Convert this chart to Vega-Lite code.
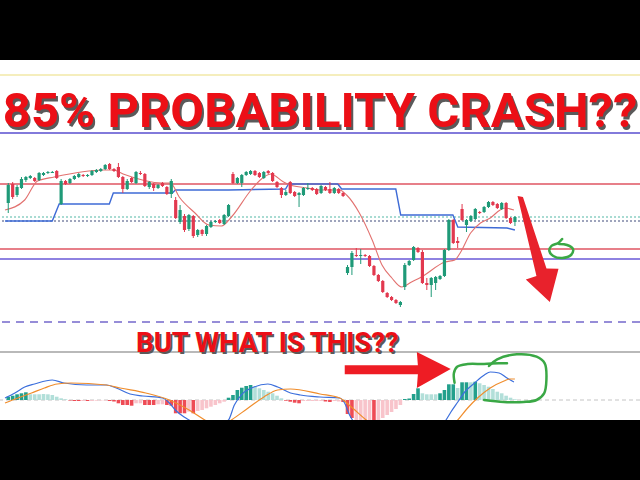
{
  "$schema": "https://vega.github.io/schema/vega-lite/v6.json",
  "width": 640,
  "height": 360,
  "autosize": {"type": "none"},
  "padding": {"top": 60, "bottom": 60, "left": 0, "right": 0},
  "background": "#000000",
  "config": {"view": {"stroke": null, "fill": "#ffffff"}, "axis": {"disable": true}, "legend": {"disable": true}},
  "datasets": {
    "candles": [
      {"t":0,"o":237,"h":257,"l":227,"c":255},{"t":1,"o":256,"h":258,"l":241,"c":243},{"t":2,"o":245,"h":255,"l":243,"c":253},{"t":3,"o":252,"h":263,"l":251,"c":261},
      {"t":4,"o":260,"h":264,"l":258,"c":263},{"t":5,"o":262,"h":265,"l":261,"c":264},{"t":6,"o":262,"h":263,"l":258,"c":259},{"t":7,"o":260,"h":268,"l":259,"c":267},
      {"t":8,"o":265,"h":268,"l":264,"c":267},{"t":9,"o":267,"h":269,"l":266,"c":268},{"t":10,"o":267,"h":269,"l":267,"c":268},{"t":11,"o":269,"h":270,"l":261,"c":262},
      {"t":12,"o":236,"h":261,"l":235,"c":259},{"t":13,"o":259,"h":260,"l":255,"c":256},{"t":14,"o":257,"h":262,"l":256,"c":261},{"t":15,"o":261,"h":265,"l":260,"c":264},
      {"t":16,"o":263,"h":267,"l":262,"c":266},{"t":17,"o":265,"h":266,"l":263,"c":264},{"t":18,"o":264,"h":266,"l":263,"c":265},{"t":19,"o":265,"h":270,"l":264,"c":269},
      {"t":20,"o":268,"h":271,"l":267,"c":270},{"t":21,"o":269,"h":272,"l":268,"c":271},{"t":22,"o":271,"h":276,"l":270,"c":275},{"t":23,"o":276,"h":277,"l":270,"c":271},
      {"t":24,"o":271,"h":272,"l":268,"c":269},{"t":25,"o":273,"h":277,"l":262,"c":263},{"t":26,"o":263,"h":264,"l":247,"c":251},{"t":27,"o":251,"h":261,"l":250,"c":259},
      {"t":28,"o":262,"h":263,"l":257,"c":258},{"t":29,"o":257,"h":269,"l":256,"c":268},{"t":30,"o":267,"h":269,"l":265,"c":266},{"t":31,"o":266,"h":267,"l":253,"c":254},
      {"t":32,"o":253,"h":259,"l":251,"c":258},{"t":33,"o":256,"h":257,"l":249,"c":252},{"t":34,"o":252,"h":256,"l":251,"c":255},{"t":35,"o":257,"h":258,"l":253,"c":254},
      {"t":36,"o":253,"h":254,"l":245,"c":246},{"t":37,"o":246,"h":261,"l":242,"c":259},{"t":38,"o":240,"h":243,"l":221,"c":222},{"t":39,"o":218,"h":235,"l":216,"c":230},
      {"t":40,"o":224,"h":226,"l":208,"c":210},{"t":41,"o":211,"h":226,"l":209,"c":225},{"t":42,"o":224,"h":225,"l":202,"c":204},{"t":43,"o":205,"h":211,"l":203,"c":210},
      {"t":44,"o":210,"h":211,"l":204,"c":206},{"t":45,"o":206,"h":215,"l":204,"c":214},{"t":46,"o":213,"h":219,"l":212,"c":218},{"t":47,"o":218,"h":220,"l":217,"c":219},
      {"t":48,"o":220,"h":221,"l":216,"c":217},{"t":49,"o":216,"h":226,"l":215,"c":225},{"t":50,"o":224,"h":236,"l":223,"c":235},{"t":51,"o":266,"h":268,"l":256,"c":257},
      {"t":52,"o":257,"h":263,"l":256,"c":262},{"t":53,"o":257,"h":266,"l":253,"c":265},{"t":54,"o":265,"h":269,"l":264,"c":268},{"t":55,"o":266,"h":270,"l":265,"c":269},
      {"t":56,"o":269,"h":270,"l":264,"c":265},{"t":57,"o":267,"h":268,"l":262,"c":263},{"t":58,"o":262,"h":269,"l":261,"c":268},{"t":59,"o":269,"h":270,"l":266,"c":267},
      {"t":60,"o":267,"h":268,"l":258,"c":259},{"t":61,"o":258,"h":259,"l":252,"c":253},{"t":62,"o":252,"h":253,"l":242,"c":245},{"t":63,"o":245,"h":250,"l":244,"c":248},
      {"t":64,"o":258,"h":259,"l":246,"c":247},{"t":65,"o":248,"h":249,"l":243,"c":244},{"t":66,"o":245,"h":248,"l":233,"c":247},{"t":67,"o":245,"h":253,"l":244,"c":252},
      {"t":68,"o":251,"h":257,"l":250,"c":252},{"t":69,"o":252,"h":253,"l":249,"c":250},{"t":70,"o":251,"h":252,"l":245,"c":246},{"t":71,"o":247,"h":255,"l":246,"c":254},
      {"t":72,"o":253,"h":254,"l":249,"c":250},{"t":73,"o":251,"h":258,"l":246,"c":247},{"t":74,"o":247,"h":253,"l":246,"c":252},{"t":75,"o":251,"h":252,"l":246,"c":247},
      {"t":76,"o":247,"h":248,"l":243,"c":244},{"t":77,"o":167,"h":175,"l":165,"c":173},{"t":78,"o":173,"h":189,"l":165,"c":187},{"t":79,"o":185,"h":192,"l":183,"c":184},
      {"t":80,"o":184,"h":191,"l":176,"c":185},{"t":81,"o":185,"h":186,"l":183,"c":184},{"t":82,"o":184,"h":185,"l":173,"c":174},{"t":83,"o":174,"h":175,"l":164,"c":165},
      {"t":84,"o":165,"h":166,"l":158,"c":159},{"t":85,"o":159,"h":160,"l":147,"c":148},{"t":86,"o":147,"h":148,"l":142,"c":143},{"t":87,"o":143,"h":144,"l":139,"c":140},
      {"t":88,"o":140,"h":141,"l":136,"c":137},{"t":89,"o":135,"h":139,"l":133,"c":138},{"t":90,"o":153,"h":177,"l":150,"c":175},{"t":91,"o":175,"h":180,"l":174,"c":179},
      {"t":92,"o":180,"h":194,"l":179,"c":193},{"t":93,"o":192,"h":193,"l":187,"c":188},{"t":94,"o":188,"h":190,"l":156,"c":157},{"t":95,"o":157,"h":162,"l":150,"c":155},
      {"t":96,"o":155,"h":163,"l":143,"c":162},{"t":97,"o":157,"h":164,"l":150,"c":163},{"t":98,"o":161,"h":165,"l":160,"c":164},{"t":99,"o":164,"h":191,"l":163,"c":190},
      {"t":100,"o":190,"h":221,"l":189,"c":220},{"t":101,"o":220,"h":221,"l":196,"c":197},{"t":102,"o":199,"h":203,"l":192,"c":197},{"t":103,"o":231,"h":236,"l":219,"c":220},
      {"t":104,"o":215,"h":221,"l":208,"c":220},{"t":105,"o":219,"h":225,"l":218,"c":224},{"t":106,"o":221,"h":232,"l":220,"c":231},{"t":107,"o":228,"h":229,"l":226,"c":227},
      {"t":108,"o":228,"h":234,"l":227,"c":233},{"t":109,"o":233,"h":239,"l":232,"c":238},{"t":110,"o":238,"h":239,"l":234,"c":235},{"t":111,"o":236,"h":237,"l":231,"c":232},
      {"t":112,"o":231,"h":238,"l":230,"c":237},{"t":113,"o":237,"h":238,"l":221,"c":222},{"t":114,"o":222,"h":223,"l":216,"c":217},{"t":115,"o":218,"h":224,"l":214,"c":223}
    ],
    "ema": [
      {"t":-0.74,"p":230},{"t":3.73,"p":240},{"t":6.64,"p":259},{"t":10.43,"p":263},{"t":21.6,"p":270},{"t":23.84,"p":270},{"t":26.07,"p":266},{"t":35.01,"p":257},
      {"t":36.8,"p":257},{"t":38.8,"p":243},{"t":42.38,"p":227},{"t":45.51,"p":215},{"t":48.41,"p":214},{"t":50.65,"p":223},{"t":55.12,"p":250},{"t":58.02,"p":263},
      {"t":59.59,"p":266},{"t":62.49,"p":258},{"t":64.06,"p":255},{"t":67.85,"p":252},{"t":70.76,"p":250},{"t":75.22,"p":250},{"t":76.79,"p":245},{"t":79.69,"p":227},
      {"t":82.6,"p":200},{"t":84.83,"p":175},{"t":87.07,"p":162},{"t":89.3,"p":153},{"t":91.53,"p":158},{"t":93.77,"p":163},{"t":99.13,"p":178},{"t":101.36,"p":180},
      {"t":102.7,"p":188},{"t":104.94,"p":207},{"t":107.17,"p":217},{"t":109.4,"p":222},{"t":111.64,"p":230},{"t":112.76,"p":232},{"t":114.77,"p":230}
    ],
    "supertrend": [
      {"t":-0.74,"p":219},{"t":9.99,"p":219},{"t":11.55,"p":236},{"t":22.94,"p":236},{"t":23.84,"p":247},{"t":37.24,"p":247},{"t":37.91,"p":250},{"t":49.98,"p":250},
      {"t":62.94,"p":251},{"t":63.61,"p":256},{"t":74.78,"p":256},{"t":75.67,"p":251},{"t":87.96,"p":251},{"t":89.07,"p":225},{"t":100.92,"p":225},{"t":102.03,"p":213},
      {"t":113.2,"p":212},{"t":114.99,"p":210}
    ],
    "levels": [
      {"name":"top","p":365},{"name":"upper","p":307},{"name":"resistance","p":256},{"name":"dotA","p":223},{"name":"dotB","p":219},
      {"name":"support","p":191},{"name":"lower","p":181},{"name":"dashed","p":118},{"name":"divider","p":88}
    ],
    "macdZero": [{"m":0}],
    "hist": [
      {"t":0,"v":3.3,"phase":"rising above zero"},{"t":1,"v":4.3,"phase":"rising above zero"},{"t":2,"v":5.7,"phase":"rising above zero"},{"t":3,"v":6.7,"phase":"rising above zero"},
      {"t":4,"v":7.7,"phase":"rising above zero"},{"t":5,"v":5.7,"phase":"falling above zero"},{"t":6,"v":5.7,"phase":"falling above zero"},{"t":7,"v":5.7,"phase":"falling above zero"},
      {"t":8,"v":6,"phase":"falling above zero"},{"t":9,"v":5.7,"phase":"falling above zero"},{"t":10,"v":5,"phase":"falling above zero"},{"t":11,"v":3.3,"phase":"falling above zero"},
      {"t":12,"v":1.7,"phase":"falling above zero"},{"t":13,"v":0.7,"phase":"falling above zero"},{"t":14,"v":-0.5,"phase":"falling below zero"},{"t":15,"v":-1,"phase":"falling below zero"},
      {"t":16,"v":-1,"phase":"falling below zero"},{"t":17,"v":-1,"phase":"rising below zero"},{"t":18,"v":-1,"phase":"falling below zero"},{"t":19,"v":-1,"phase":"rising below zero"},
      {"t":20,"v":-0.7,"phase":"rising below zero"},{"t":21,"v":-0.5,"phase":"rising below zero"},{"t":22,"v":-0.5,"phase":"rising below zero"},{"t":23,"v":-1,"phase":"falling below zero"},
      {"t":24,"v":-1.5,"phase":"falling below zero"},{"t":25,"v":-3.3,"phase":"falling below zero"},{"t":26,"v":-5,"phase":"falling below zero"},{"t":27,"v":-5,"phase":"falling below zero"},
      {"t":28,"v":-5.7,"phase":"falling below zero"},{"t":29,"v":-3.3,"phase":"rising below zero"},{"t":30,"v":-3.3,"phase":"rising below zero"},{"t":31,"v":-5,"phase":"falling below zero"},
      {"t":32,"v":-5,"phase":"falling below zero"},{"t":33,"v":-5,"phase":"falling below zero"},{"t":34,"v":-4.3,"phase":"rising below zero"},{"t":35,"v":-4.3,"phase":"rising below zero"},
      {"t":36,"v":-5,"phase":"falling below zero"},{"t":37,"v":-5.7,"phase":"falling below zero"},{"t":38,"v":-13.3,"phase":"falling below zero"},{"t":39,"v":-13.3,"phase":"falling below zero"},
      {"t":40,"v":-13.3,"phase":"falling below zero"},{"t":41,"v":-11.7,"phase":"rising below zero"},{"t":42,"v":-13.3,"phase":"falling below zero"},{"t":43,"v":-11,"phase":"rising below zero"},
      {"t":44,"v":-10,"phase":"rising below zero"},{"t":45,"v":-8.3,"phase":"rising below zero"},{"t":46,"v":-6.7,"phase":"rising below zero"},{"t":47,"v":-5,"phase":"rising below zero"},
      {"t":48,"v":-3.3,"phase":"rising below zero"},{"t":49,"v":-1.7,"phase":"rising below zero"},{"t":50,"v":2.3,"phase":"rising above zero"},{"t":51,"v":5,"phase":"rising above zero"},
      {"t":52,"v":10,"phase":"rising above zero"},{"t":53,"v":12.3,"phase":"rising above zero"},{"t":54,"v":14,"phase":"rising above zero"},{"t":55,"v":15,"phase":"rising above zero"},
      {"t":56,"v":13.3,"phase":"falling above zero"},{"t":57,"v":11.7,"phase":"falling above zero"},{"t":58,"v":10,"phase":"falling above zero"},{"t":59,"v":8.3,"phase":"falling above zero"},
      {"t":60,"v":6.7,"phase":"falling above zero"},{"t":61,"v":4.3,"phase":"falling above zero"},{"t":62,"v":1.7,"phase":"falling above zero"},{"t":63,"v":-0.7,"phase":"falling below zero"},
      {"t":64,"v":-1.7,"phase":"falling below zero"},{"t":65,"v":-2.7,"phase":"falling below zero"},{"t":66,"v":-3.3,"phase":"falling below zero"},{"t":67,"v":-1,"phase":"rising below zero"},
      {"t":68,"v":-1,"phase":"rising below zero"},{"t":69,"v":-1,"phase":"rising below zero"},{"t":70,"v":-1,"phase":"rising below zero"},{"t":71,"v":-1,"phase":"rising below zero"},
      {"t":72,"v":-1.5,"phase":"falling below zero"},{"t":73,"v":-2,"phase":"falling below zero"},{"t":74,"v":-1,"phase":"rising below zero"},{"t":75,"v":-1.5,"phase":"rising below zero"},
      {"t":76,"v":-2,"phase":"falling below zero"},{"t":77,"v":-14,"phase":"falling below zero"},{"t":78,"v":-18,"phase":"falling below zero"},{"t":79,"v":-20,"phase":"rising below zero"},
      {"t":80,"v":-21,"phase":"rising below zero"},{"t":81,"v":-22,"phase":"rising below zero"},{"t":82,"v":-22,"phase":"rising below zero"},{"t":83,"v":-24,"phase":"falling below zero"},
      {"t":84,"v":-20,"phase":"rising below zero"},{"t":85,"v":-18,"phase":"rising below zero"},{"t":86,"v":-15,"phase":"rising below zero"},{"t":87,"v":-12,"phase":"rising below zero"},
      {"t":88,"v":-9,"phase":"rising below zero"},{"t":89,"v":-5,"phase":"rising below zero"},{"t":90,"v":1,"phase":"rising above zero"},{"t":91,"v":1.5,"phase":"rising above zero"},
      {"t":92,"v":6,"phase":"rising above zero"},{"t":93,"v":11.7,"phase":"rising above zero"},{"t":94,"v":6.7,"phase":"falling above zero"},{"t":95,"v":5.7,"phase":"falling above zero"},
      {"t":96,"v":5.7,"phase":"falling above zero"},{"t":97,"v":5.7,"phase":"falling above zero"},{"t":98,"v":6.7,"phase":"rising above zero"},{"t":99,"v":10,"phase":"rising above zero"},
      {"t":100,"v":15.7,"phase":"rising above zero"},{"t":101,"v":15.7,"phase":"rising above zero"},{"t":102,"v":12,"phase":"falling above zero"},{"t":103,"v":17.7,"phase":"rising above zero"},
      {"t":104,"v":17.7,"phase":"rising above zero"},{"t":105,"v":17.7,"phase":"falling above zero"},{"t":106,"v":18.3,"phase":"rising above zero"},{"t":107,"v":16.7,"phase":"falling above zero"},
      {"t":108,"v":15,"phase":"falling above zero"},{"t":109,"v":13.3,"phase":"falling above zero"},{"t":110,"v":11,"phase":"falling above zero"},{"t":111,"v":8.3,"phase":"falling above zero"},
      {"t":112,"v":6.7,"phase":"falling above zero"},{"t":113,"v":4.3,"phase":"falling above zero"},{"t":114,"v":2.3,"phase":"falling above zero"},{"t":115,"v":0.7,"phase":"falling above zero"}
    ],
    "macdLine": [
      {"t":-0.74,"m":2},{"t":1.5,"m":7},{"t":3.73,"m":13},{"t":5.96,"m":16},{"t":9.99,"m":20},{"t":12.67,"m":17},{"t":17.81,"m":15},{"t":22.27,"m":15},
      {"t":24.51,"m":12},{"t":27.64,"m":6},{"t":30.54,"m":4},{"t":35.01,"m":2},{"t":36.57,"m":-3},{"t":37.91,"m":-10},{"t":39.92,"m":-17},{"t":41.04,"m":-20},
      {"t":45.51,"m":-30},{"t":49.98,"m":-20},{"t":51.32,"m":-5},{"t":52.88,"m":5},{"t":55.79,"m":13},{"t":58.92,"m":16},{"t":61.15,"m":13},{"t":64.06,"m":7},
      {"t":66.29,"m":5},{"t":70.76,"m":3},{"t":75.22,"m":2},{"t":76.34,"m":-3},{"t":77.46,"m":-15},{"t":78.13,"m":-20},{"t":84.16,"m":-40},{"t":93.1,"m":-40},
      {"t":99.35,"m":-20},{"t":100.47,"m":-12},{"t":102.03,"m":-2},{"t":103.6,"m":8},{"t":105.83,"m":17},{"t":108.06,"m":25},{"t":109.4,"m":28},{"t":111.41,"m":27},
      {"t":113.2,"m":22},{"t":114.77,"m":18}
    ],
    "signalLine": [
      {"t":-0.74,"m":-3},{"t":2.17,"m":2},{"t":5.29,"m":7},{"t":8.2,"m":12},{"t":11.1,"m":16},{"t":14.23,"m":17},{"t":22.27,"m":15},{"t":25.4,"m":12},
      {"t":31.21,"m":7},{"t":36.57,"m":0},{"t":41.04,"m":-10},{"t":44.61,"m":-20},{"t":47.74,"m":-28},{"t":50.65,"m":-20},{"t":54.45,"m":-8},{"t":58.02,"m":3},
      {"t":61.15,"m":10},{"t":64.06,"m":11},{"t":70.76,"m":6},{"t":75.22,"m":2},{"t":78.13,"m":-8},{"t":81.25,"m":-20},{"t":88.63,"m":-40},{"t":97.57,"m":-40},
      {"t":102.03,"m":-20},{"t":104.27,"m":-8},{"t":106.5,"m":2},{"t":109.4,"m":12},{"t":112.53,"m":19},{"t":113.87,"m":21},{"t":114.99,"m":21}
    ],
    "notes": [
      {"role":"title","label":"85% PROBABILITY CRASH??","t":70.76,"p":328},
      {"role":"question","label":"BUT WHAT IS THIS??","t":58.8,"p":96.5},
      {"role":"arrowRight","label":"","t":88.4,"p":70},
      {"role":"arrowDown","label":"","t":120.24,"p":190}
    ],
    "loops": [
      {"loop":"small","k":0,"t":125.71,"p":201},{"loop":"small","k":1,"t":124.82,"p":197},{"loop":"small","k":2,"t":123.26,"p":194},{"loop":"small","k":3,"t":122.81,"p":189},
      {"loop":"small","k":4,"t":123.7,"p":184},{"loop":"small","k":5,"t":125.71,"p":182},{"loop":"small","k":6,"t":127.73,"p":185},{"loop":"small","k":7,"t":128.17,"p":191},
      {"loop":"small","k":8,"t":126.83,"p":195},{"loop":"small","k":9,"t":125.04,"p":196},
      {"loop":"left","k":0,"t":101.3,"p":57.3},{"loop":"left","k":1,"t":101.14,"p":66.7},{"loop":"left","k":2,"t":101.88,"p":73.3},{"loop":"left","k":3,"t":104.27,"p":76},
      {"loop":"left","k":4,"t":107.99,"p":76},{"loop":"left","k":5,"t":111.35,"p":76.7},{"loop":"left","k":6,"t":113.2,"p":76.7},
      {"loop":"right","k":0,"t":109.11,"p":74},{"loop":"right","k":1,"t":110.97,"p":80.7},{"loop":"right","k":2,"t":115.44,"p":85.7},{"loop":"right","k":3,"t":119.91,"p":83.3},
      {"loop":"right","k":4,"t":121.76,"p":76.7},{"loop":"right","k":5,"t":122.14,"p":60},{"loop":"right","k":6,"t":121.62,"p":46.7},{"loop":"right","k":7,"t":119.91,"p":40},
      {"loop":"right","k":8,"t":116.94,"p":38},{"loop":"right","k":9,"t":112.47,"p":38},{"loop":"right","k":10,"t":108,"p":40}
    ]
  },
  "resolve": {"scale": {"y": "independent", "color": "independent", "strokeDash": "independent"}},
  "layer": [
    {
      "layer": [
        {
          "data": {"name": "levels"},
          "mark": {"type": "rule", "strokeWidth": 1.5},
          "encoding": {
            "y": {"field": "p", "type": "quantitative", "scale": {"domain": [20, 380], "nice": false, "zero": false}},
            "color": {"field": "name", "type": "nominal", "scale": {"domain": ["top","upper","resistance","dotA","dotB","support","lower","dashed","divider"], "range": ["#f2e9a8","#5a4fcf","#e05563","#8ccfc4","#7f86a6","#e05563","#6a5ad8","#7468cc","#a3a3a3"]}},
            "strokeDash": {"field": "name", "type": "nominal", "scale": {"domain": ["top","upper","resistance","dotA","dotB","support","lower","dashed","divider"], "range": [[1,0],[1,0],[1,0],[2,2],[2,2],[1,0],[1,0],[8,6],[1,0]]}}
          }
        },
        {
          "data": {"name": "supertrend"},
          "mark": {"type": "line", "color": "#3e6bd6", "strokeWidth": 1.4},
          "encoding": {
            "x": {"field": "t", "type": "quantitative", "scale": {"domain": [-0.74, 142.25], "nice": false, "zero": false}},
            "y": {"field": "p", "type": "quantitative", "scale": {"domain": [20, 380], "nice": false, "zero": false}}
          }
        },
        {
          "data": {"name": "ema"},
          "mark": {"type": "line", "color": "#e2716f", "strokeWidth": 1.1, "interpolate": "monotone"},
          "encoding": {
            "x": {"field": "t", "type": "quantitative", "scale": {"domain": [-0.74, 142.25], "nice": false, "zero": false}},
            "y": {"field": "p", "type": "quantitative", "scale": {"domain": [20, 380], "nice": false, "zero": false}}
          }
        },
        {
          "data": {"name": "candles"},
          "mark": {"type": "rule", "strokeWidth": 1},
          "encoding": {
            "x": {"field": "t", "type": "quantitative", "scale": {"domain": [-0.74, 142.25], "nice": false, "zero": false}},
            "y": {"field": "l", "type": "quantitative", "scale": {"domain": [20, 380], "nice": false, "zero": false}},
            "y2": {"field": "h"},
            "color": {"condition": {"test": "datum.c < datum.o", "value": "#e2394f"}, "value": "#1f9a78"}
          }
        },
        {
          "data": {"name": "candles"},
          "mark": {"type": "bar", "size": 3.2},
          "encoding": {
            "x": {"field": "t", "type": "quantitative", "scale": {"domain": [-0.74, 142.25], "nice": false, "zero": false}},
            "y": {"field": "o", "type": "quantitative", "scale": {"domain": [20, 380], "nice": false, "zero": false}},
            "y2": {"field": "c"},
            "color": {"condition": {"test": "datum.c < datum.o", "value": "#e2394f"}, "value": "#1f9a78"}
          }
        }
      ]
    },
    {
      "layer": [
        {
          "data": {"name": "macdZero"},
          "mark": {"type": "rule", "color": "#c4c4c4", "strokeDash": [4, 3], "strokeWidth": 1},
          "encoding": {
            "y": {"field": "m", "type": "quantitative", "scale": {"domain": [-20, 340], "nice": false, "zero": false}}
          }
        },
        {
          "data": {"name": "hist"},
          "mark": {"type": "bar", "size": 3.6, "clip": true},
          "encoding": {
            "x": {"field": "t", "type": "quantitative", "scale": {"domain": [-0.74, 142.25], "nice": false, "zero": false}},
            "y": {"field": "v", "type": "quantitative", "scale": {"domain": [-20, 340], "nice": false, "zero": false}},
            "y2": {"datum": 0},
            "color": {"field": "phase", "type": "nominal", "scale": {"domain": ["rising above zero","falling above zero","falling below zero","rising below zero"], "range": ["#22a08c","#b2dfd9","#ee4b55","#f8c4cb"]}}
          }
        },
        {
          "data": {"name": "macdLine"},
          "mark": {"type": "line", "color": "#3c6fdc", "strokeWidth": 1.2, "clip": true, "interpolate": "monotone"},
          "encoding": {
            "x": {"field": "t", "type": "quantitative", "scale": {"domain": [-0.74, 142.25], "nice": false, "zero": false}},
            "y": {"field": "m", "type": "quantitative", "scale": {"domain": [-20, 340], "nice": false, "zero": false}}
          }
        },
        {
          "data": {"name": "signalLine"},
          "mark": {"type": "line", "color": "#f08d2c", "strokeWidth": 1.2, "clip": true, "interpolate": "monotone"},
          "encoding": {
            "x": {"field": "t", "type": "quantitative", "scale": {"domain": [-0.74, 142.25], "nice": false, "zero": false}},
            "y": {"field": "m", "type": "quantitative", "scale": {"domain": [-20, 340], "nice": false, "zero": false}}
          }
        }
      ]
    },
    {
      "layer": [
        {
          "data": {"name": "notes"},
          "transform": [{"filter": "datum.role == 'title'"}],
          "mark": {"type": "text", "font": "Roboto", "fontWeight": "bold", "fontSize": 49, "color": "#5a5a5a", "dx": 2, "dy": 3, "align": "center", "baseline": "middle"},
          "encoding": {
            "x": {"field": "t", "type": "quantitative", "scale": {"domain": [-0.74, 142.25], "nice": false, "zero": false}},
            "y": {"field": "p", "type": "quantitative", "scale": {"domain": [20, 380], "nice": false, "zero": false}},
            "text": {"field": "label"}
          }
        },
        {
          "data": {"name": "notes"},
          "transform": [{"filter": "datum.role == 'title'"}],
          "mark": {"type": "text", "font": "Roboto", "fontWeight": "bold", "fontSize": 49, "color": "#ec0f16", "align": "center", "baseline": "middle"},
          "encoding": {
            "x": {"field": "t", "type": "quantitative", "scale": {"domain": [-0.74, 142.25], "nice": false, "zero": false}},
            "y": {"field": "p", "type": "quantitative", "scale": {"domain": [20, 380], "nice": false, "zero": false}},
            "text": {"field": "label"}
          }
        },
        {
          "data": {"name": "notes"},
          "transform": [{"filter": "datum.role == 'question'"}],
          "mark": {"type": "text", "font": "Roboto", "fontWeight": "bold", "fontSize": 27.5, "color": "#5a5a5a", "dx": 2, "dy": 2, "align": "center", "baseline": "middle"},
          "encoding": {
            "x": {"field": "t", "type": "quantitative", "scale": {"domain": [-0.74, 142.25], "nice": false, "zero": false}},
            "y": {"field": "p", "type": "quantitative", "scale": {"domain": [20, 380], "nice": false, "zero": false}},
            "text": {"field": "label"}
          }
        },
        {
          "data": {"name": "notes"},
          "transform": [{"filter": "datum.role == 'question'"}],
          "mark": {"type": "text", "font": "Roboto", "fontWeight": "bold", "fontSize": 27.5, "color": "#ec0f16", "align": "center", "baseline": "middle"},
          "encoding": {
            "x": {"field": "t", "type": "quantitative", "scale": {"domain": [-0.74, 142.25], "nice": false, "zero": false}},
            "y": {"field": "p", "type": "quantitative", "scale": {"domain": [20, 380], "nice": false, "zero": false}},
            "text": {"field": "label"}
          }
        },
        {
          "data": {"name": "notes"},
          "transform": [{"filter": "datum.role == 'arrowRight'"}],
          "mark": {"type": "point", "shape": "M-1,-0.09L0.38,-0.09L0.36,-0.34L1,-0.02L0.36,0.34L0.38,0.08L-1,0.08Z", "size": 11236, "filled": true, "color": "#ee1c24", "opacity": 1, "strokeWidth": 0},
          "encoding": {
            "x": {"field": "t", "type": "quantitative", "scale": {"domain": [-0.74, 142.25], "nice": false, "zero": false}},
            "y": {"field": "p", "type": "quantitative", "scale": {"domain": [20, 380], "nice": false, "zero": false}}
          }
        },
        {
          "data": {"name": "notes"},
          "transform": [{"filter": "datum.role == 'arrowDown'"}],
          "mark": {"type": "point", "shape": "M-0.394,-1.04L-0.29,-1.02L0.163,0.357L0.394,0.36L0.227,1.0L-0.235,0.565L-0.03,0.5Z", "size": 10816, "filled": true, "color": "#e8222c", "opacity": 1, "strokeWidth": 0},
          "encoding": {
            "x": {"field": "t", "type": "quantitative", "scale": {"domain": [-0.74, 142.25], "nice": false, "zero": false}},
            "y": {"field": "p", "type": "quantitative", "scale": {"domain": [20, 380], "nice": false, "zero": false}}
          }
        },
        {
          "data": {"name": "loops"},
          "mark": {"type": "line", "color": "#3aa845", "strokeWidth": 2.5, "interpolate": "catmull-rom", "strokeCap": "round"},
          "encoding": {
            "x": {"field": "t", "type": "quantitative", "scale": {"domain": [-0.74, 142.25], "nice": false, "zero": false}},
            "y": {"field": "p", "type": "quantitative", "scale": {"domain": [20, 380], "nice": false, "zero": false}},
            "detail": {"field": "loop", "type": "nominal"},
            "order": {"field": "k", "type": "quantitative"}
          }
        }
      ]
    }
  ]
}
